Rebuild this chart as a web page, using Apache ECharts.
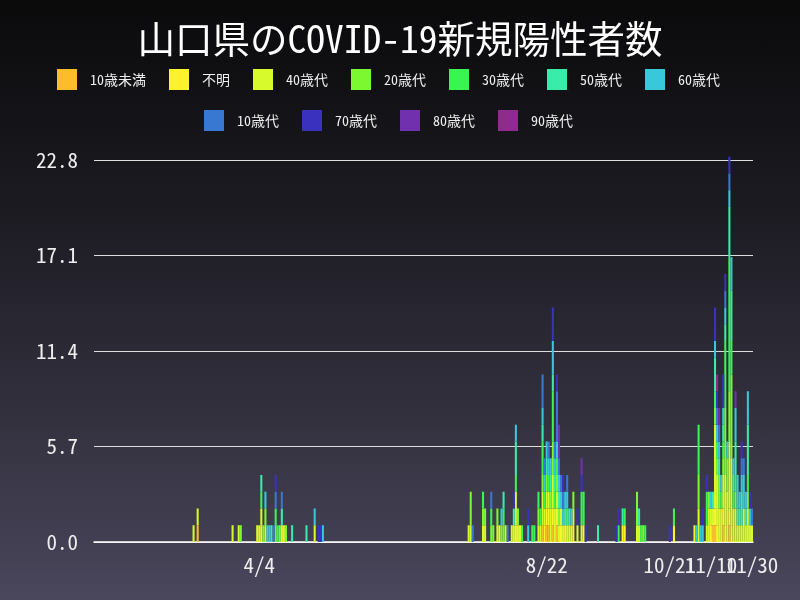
<!DOCTYPE html>
<html>
<head>
<meta charset="utf-8">
<script src="https://cdn.jsdelivr.net/npm/echarts@6/dist/echarts.min.js"></script>
<style>
  html, body { margin: 0; padding: 0; }
  #main {
    width: 800px; height: 600px;
    background: linear-gradient(to bottom, #0a0a0b 0%, #1c1b22 35%, #34313f 70%, #4a465c 100%);
  }
</style>
</head>
<body>
<div id="main"></div>
<script>
// 2020/1/15 - 11/30, one category per day
var startDay = new Date(2020, 0, 15);
var dayCount = 321;
var shownLabels = ['4/4', '8/22', '10/21', '11/30'];
var overlapLabels = ['11/10'];   // drawn on a second axis so it is not auto-hidden
var yTicks = [0, 5.7, 11.4, 17.1, 22.8];

var groups = ['10歳未満', '不明', '40歳代', '20歳代', '30歳代', '50歳代', '60歳代', '10歳代', '70歳代', '80歳代', '90歳代'];
var colors = ['#fcbd2b', '#fdf22b', '#d6fa2c', '#7bf82f', '#3af551', '#3aeca9', '#39c8da', '#3877d2', '#3a31bf', '#7131af', '#8f2a8f'];

// cases per day, [date, count]
var under10 = [['3/5',1],['8/20',1],['8/22',1],['8/23',1],['8/25',1],['8/27',1],['11/11',1],['11/12',1],['11/16',1],['11/19',1]];
var unknown = [['4/5',1],['4/15',1],['7/30',1],['8/7',1],['8/21',1],['8/22',1],['8/23',1],['8/25',1],['8/27',1],['8/29',1],
  ['8/31',1],['9/4',1],['9/9',1],['9/28',1],['9/29',1],['10/23',1],['11/2',1],['11/10',1],['11/12',1],['11/13',1],
  ['11/16',1],['11/17',1],['11/19',1],['11/20',1]];
var age40 = [['3/3',1],['3/5',1],['3/22',1],['3/25',1],['4/3',1],['4/4',1],['4/5',1],['4/7',1],['4/16',1],['5/1',1],
  ['7/15',1],['7/16',1],['7/22',1],['7/23',1],['7/29',1],['8/2',1],['8/5',1],['8/6',1],['8/7',2],['8/8',1],['8/9',1],
  ['8/18',1],['8/19',1],['8/20',2],['8/21',1],['8/22',1],['8/23',1],['8/24',2],['8/25',2],['8/26',2],['8/27',1],['8/28',1],
  ['8/29',1],['8/30',1],['9/1',1],['9/2',1],['9/3',1],['9/4',1],['9/6',1],['9/8',1],['10/5',1],['10/6',1],
  ['11/4',2],['11/8',1],['11/9',2],['11/10',1],['11/11',1],['11/12',5],['11/13',3],['11/14',2],['11/15',2],['11/16',2],
  ['11/17',3],['11/18',3],['11/19',4],['11/20',4],['11/21',2],['11/22',2],['11/23',1],['11/24',1],['11/25',1],['11/26',2],
  ['11/27',1],['11/28',2],['11/29',1],['11/30',1]];
var age20 = [['3/26',1],['4/6',1],['4/7',1],['4/12',1],['4/14',1],['4/17',1],['7/16',2],['7/22',1],['7/23',1],['7/26',1],
  ['7/27',1],['7/29',1],['7/31',1],['8/1',1],['8/8',1],['8/18',1],['8/20',1],['8/22',1],['8/24',1],['8/25',2],['8/27',1],
  ['8/28',1],['9/4',1],['10/5',2],['10/8',1],['11/4',2],['11/9',1],['11/12',1],['11/13',1],['11/14',2],['11/16',1],
  ['11/17',4],['11/18',2],['11/19',3],['11/20',5],['11/22',1],['11/28',1]];
var age30 = [['4/5',1],['4/12',1],['4/13',1],['7/22',1],['7/26',1],['8/1',1],['8/7',1],['8/10',1],['8/15',1],['8/16',1],
  ['8/18',1],['8/19',1],['8/20',2],['8/21',1],['8/23',1],['8/25',3],['8/26',1],['8/27',1],['9/1',1],['9/8',2],['9/9',2],
  ['9/26',1],['9/29',1],['10/7',1],['10/9',1],['10/23',1],['11/4',3],['11/8',2],['11/12',1],['11/13',1],['11/15',1],
  ['11/16',1],['11/17',4],['11/19',8],['11/20',2],['11/21',1],['11/22',1],['11/28',1]];
var age50 = [['4/5',1],['4/10',1],['4/15',1],['4/20',1],['4/27',1],['8/1',1],['8/6',1],['8/7',2],['8/20',1],['8/22',1],
  ['8/24',1],['8/25',1],['8/26',1],['8/28',1],['8/31',1],['9/2',1],['9/16',1],['9/28',1],['10/6',1],['11/11',1],
  ['11/12',2],['11/14',1],['11/16',1],['11/17',1],['11/19',3],['11/20',3],['11/21',1],['11/22',2],['11/23',1],['11/24',1],
  ['11/25',2],['11/27',1],['11/28',3]];
var age60 = [['4/7',1],['4/8',1],['4/9',1],['5/1',1],['5/5',1],['7/31',1],['8/7',1],['8/13',1],['8/20',1],['8/21',1],
  ['8/22',1],['8/23',1],['8/24',1],['8/25',2],['8/26',1],['8/27',1],['8/28',1],['8/29',1],['8/30',1],['8/31',1],['9/1',1],
  ['9/3',1],['11/3',1],['11/5',1],['11/6',1],['11/10',1],['11/12',1],['11/13',1],['11/14',1],['11/15',1],['11/16',1],
  ['11/17',1],['11/18',1],['11/19',1],['11/20',2],['11/21',1],['11/22',2],['11/23',2],['11/24',1],['11/25',1],['11/26',2],
  ['11/27',1],['11/28',2],['11/29',1]];
var age10 = [['4/11',1],['4/12',1],['4/15',1],['7/17',1],['7/26',1],['8/3',1],['8/20',2],['8/21',1],['8/23',1],['8/26',1],
  ['8/27',3],['8/28',1],['8/29',1],['8/30',1],['9/1',1],['11/13',1],['11/14',1],['11/17',1],['11/19',1],['11/25',1],
  ['11/26',1],['11/30',1]];
var age70 = [['4/12',1],['5/3',1],['5/4',1],['8/6',1],['8/13',1],['8/25',2],['8/27',1],['8/30',1],['9/6',1],['9/8',1],
  ['9/10',1],['9/25',1],['9/26',1],['10/21',1],['11/6',1],['11/8',1],['11/12',2],['11/13',1],['11/16',2],['11/17',1],
  ['11/19',1],['11/25',1],['11/29',1]];
var age80 = [['8/28',2],['9/8',1],['11/14',1],['11/22',1]];
var age90 = [['11/13',1]];

var groupData = [under10, unknown, age40, age20, age30, age50, age60, age10, age70, age80, age90];

var days = [];
for (var i = 0; i < dayCount; i++) {
  var d = new Date(startDay.getTime() + i * 86400000);
  days.push((d.getMonth() + 1) + '/' + d.getDate());
}

function fullSeries(list) {
  var arr = days.map(function () { return null; });
  list.forEach(function (p) {
    var k = days.indexOf(p[0]);
    arr[k] = (arr[k] || 0) + p[1];
  });
  return arr;
}

var monoFont = "'Noto Sans Mono CJK JP', 'Noto Sans CJK JP', monospace";
var myChart = echarts.init(document.getElementById('main'));

var series = groups.map(function (g, k) {
  return {
    name: g,
    type: 'bar',
    stack: 'total',
    clip: false,
    barCategoryGap: '0%',
    itemStyle: { color: colors[k] },
    data: fullSeries(groupData[k])
  };
});

function legendRow(names, left, top) {
  return {
    data: names,
    left: left, top: top,
    padding: 0,
    itemWidth: 20, itemHeight: 21, itemGap: 23,
    icon: 'rect',
    textStyle: { color: '#eeeeee', fontSize: 14, fontFamily: monoFont, padding: [0, 0, 0, 8] }
  };
}

function dayAxis(labels, showLine) {
  return {
    type: 'category',
    position: 'bottom',
    data: days,
    axisLine: { show: showLine, lineStyle: { color: '#ffffff', width: 1.5 } },
    axisTick: { show: false },
    splitLine: { show: false },
    axisLabel: {
      color: '#eeeeee', fontSize: 21, margin: 13,
      showMinLabel: true, showMaxLabel: true, hideOverlap: false,
      interval: function (idx, val) { return labels.indexOf(val) >= 0; }
    }
  };
}

myChart.setOption({
  animation: false,
  textStyle: { fontFamily: monoFont },
  title: {
    text: '山口県のCOVID-19新規陽性者数',
    left: 'center',
    top: 15,
    textStyle: { color: '#ffffff', fontSize: 37.5, fontWeight: 'normal', fontFamily: monoFont }
  },
  legend: [legendRow(groups.slice(0, 7), 57, 69), legendRow(groups.slice(7), 204, 110)],
  grid: { left: 94, right: 47, top: 160, bottom: 58 },
  xAxis: [dayAxis(shownLabels, true), dayAxis(overlapLabels, false)],
  yAxis: {
    type: 'value',
    min: yTicks[0],
    max: yTicks[yTicks.length - 1],
    interval: yTicks[1],
    axisLine: { show: false },
    axisTick: { show: false },
    axisLabel: {
      color: '#eeeeee', fontSize: 21, margin: 16,
      formatter: function (v) { return v.toFixed(1); }
    },
    splitLine: { lineStyle: { color: '#dddddd', width: 1.2 } }
  },
  series: series
});
</script>
</body>
</html>
